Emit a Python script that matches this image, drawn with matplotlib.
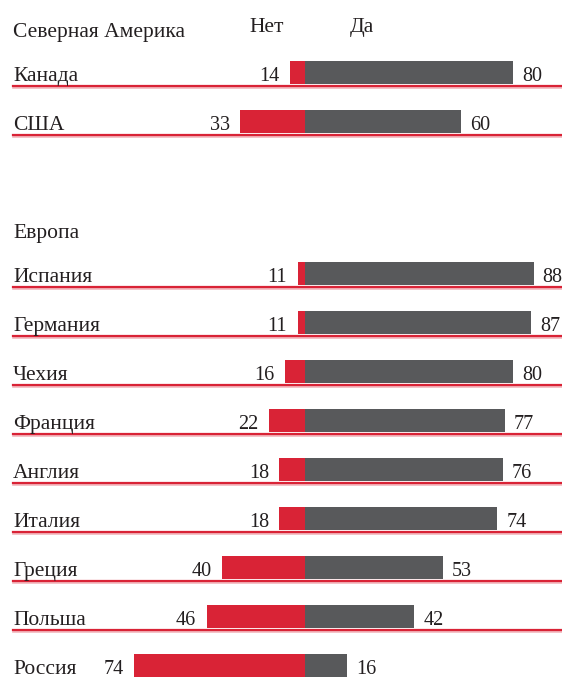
import matplotlib
matplotlib.use("Agg")
import matplotlib.pyplot as plt

# ---- data ----
group_titles = ["Северная Америка", "Европа"]
header_no = "Нет"
header_yes = "Да"

na_countries = ["Канада", "США"]
na_no = [14, 33]
na_yes = [80, 60]

eu_countries = ["Испания", "Германия", "Чехия", "Франция", "Англия",
                "Италия", "Греция", "Польша", "Россия"]
eu_no = [11, 11, 16, 22, 18, 18, 40, 46, 74]
eu_yes = [88, 87, 80, 77, 76, 74, 53, 42, 16]

# ---- style ----
RED = "#d92336"
GRAY = "#58595b"
TXT = "#231f20"
FONT = "Liberation Serif"
FS_W = 15.5   # words
FS_N = 14.5   # numbers

W, H = 562, 678
fig = plt.figure(figsize=(W / 100, H / 100), dpi=100)
ax = fig.add_axes([0, 0, 1, 1])
zero_px = 305.3
ppu = 2.595
ax.set_xlim(-zero_px / ppu, (W - zero_px) / ppu)
ax.set_ylim(H, 0)
ax.axis("off")

row_step = 49.0
bar_h = 22.6
no_origin = 8  # red bars start hidden behind the grey bar


def draw_group(title, countries, no_vals, yes_vals, first_center, last_line=True):
    fig.text(13 / W, 1 - (first_center - 35.6) / H, title, fontsize=FS_W,
             family=FONT, color=TXT, va="baseline", ha="left")
    n = len(countries)
    for i, (c, nv, yv) in enumerate(zip(countries, no_vals, yes_vals)):
        yc = first_center + i * row_step
        ax.barh(yc, nv, left=no_origin - nv, height=bar_h, color=RED, zorder=2)
        ax.barh(yc, yv, left=0, height=bar_h, color=GRAY, zorder=3)
        fig.text(13 / W, 1 - (yc + 8.7) / H, c, fontsize=FS_W, family=FONT,
                 color=TXT, va="baseline", ha="left")
        ax.annotate(str(yv), xy=(yv, yc), xytext=(9, -8.7),
                    textcoords="offset pixels", fontsize=FS_N, family=FONT,
                    color=TXT, va="baseline", ha="left")
        ax.annotate(str(nv), xy=(no_origin - nv, yc), xytext=(-10.5, -8.7),
                    textcoords="offset pixels", fontsize=FS_N, family=FONT,
                    color=TXT, va="baseline", ha="right")
        if i < n - 1 or last_line:
            ax.axhline(yc + 14.6, xmin=12.7 / W, xmax=1, color="#f2b6bc",
                       lw=1.9, zorder=1)
            ax.axhline(yc + 14.0, xmin=12.7 / W, xmax=1, color=RED,
                       lw=1.6, zorder=1)


draw_group(group_titles[0], na_countries, na_no, na_yes, 72.3)
draw_group(group_titles[1], eu_countries, eu_no, eu_yes, 273.3, last_line=False)

fig.text(266.7 / W, 1 - 31.7 / H, header_no, fontsize=FS_W, family=FONT,
         color=TXT, va="baseline", ha="center")
fig.text(361.7 / W, 1 - 31.7 / H, header_yes, fontsize=FS_W, family=FONT,
         color=TXT, va="baseline", ha="center")

fig.savefig("out.png", dpi=100)
